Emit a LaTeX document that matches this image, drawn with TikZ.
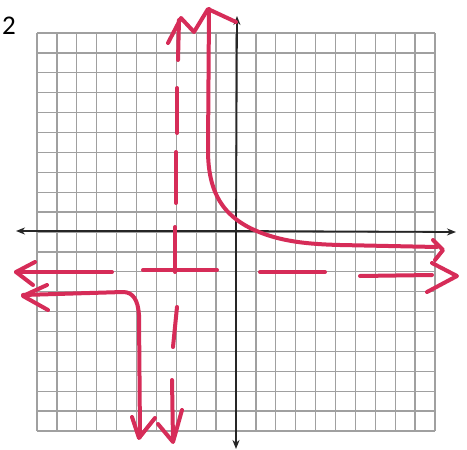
\documentclass[tikz,border=0pt]{standalone}
\usepackage{fontspec}
\setmainfont{Carlito}
\usetikzlibrary{arrows.meta}
\definecolor{pen}{RGB}{214,44,88}
\definecolor{gridc}{RGB}{160,160,160}
\tikzset{
  gridline/.style={draw=gridc, line width=1.3pt},
  axis/.style={draw=black!85, line width=1.8pt, -{Stealth[length=9pt,width=7pt]}},
  ink/.style={draw=pen, line width=4pt, line cap=round, line join=round},
}
\begin{document}
\begin{tikzpicture}[x=1pt,y=-1pt]
\useasboundingbox (0,0) rectangle (467,450);
\fill[white] (0,0) rectangle (467,450);
% grid
\foreach \i in {0,...,20} {
  \draw[gridline] ({37+19.9*\i},33) -- ({37+19.9*\i},431);
  \draw[gridline] (37,{33+19.9*\i}) -- (435,{33+19.9*\i});
}
% axes
\coordinate (o) at (236,231);
\coordinate (xl) at (16,231);
\coordinate (xr) at (456,232);
\coordinate (yt) at (237,16);
\coordinate (yb) at (236,449);
\draw[axis] (o) -- (xr);
\draw[axis] (o) -- (xl);
\draw[axis] (o) -- (yt);
\draw[axis] (o) -- (yb);
% label
\node[font=\fontsize{27}{30}\selectfont, inner sep=0pt] (lbl) at (9,26) {2};
% vertical asymptote (dashed, hand drawn)
\draw[ink] (168,43) -- (181,18) -- (194,32) -- (208,9) -- (236,22);
\draw[ink] (179,20) -- (178,60);
\draw[ink] (177,88) -- (177,133);
\draw[ink] (176,152) -- (176,203);
\draw[ink] (175,227) -- (175,272);
\draw[ink] (177,307) -- (173,347);
\draw[ink] (172,380) -- (173,440);
\draw[ink] (158,424) -- (173,442) -- (182,410);
% horizontal asymptote
\draw[ink] (112,272) -- (16,272);
\draw[ink] (35,262) -- (16,272) -- (33,285);
\draw[ink] (143,270) -- (217,270);
\draw[ink] (260,272) -- (325,272);
\draw[ink] (360,276) -- (432,275);
\draw[ink] (432,263) -- (457,276) -- (427,292);
% right branch
\draw[ink] (209,9) -- (208,150) .. controls (208,195) and (225,215) .. (250,228)
  .. controls (275,240) and (300,244) .. (340,245) -- (437,247);
\draw[ink] (433,240) -- (443,250) -- (435,260);
% left branch
\draw[ink] (23,295) -- (123,292) .. controls (133,292) and (138,300) .. (139,315) -- (140,437);
\draw[ink] (47,285) -- (23,296) -- (48,310);
\draw[ink] (132,417) -- (139,438) -- (155,418);
\end{tikzpicture}
\end{document}
